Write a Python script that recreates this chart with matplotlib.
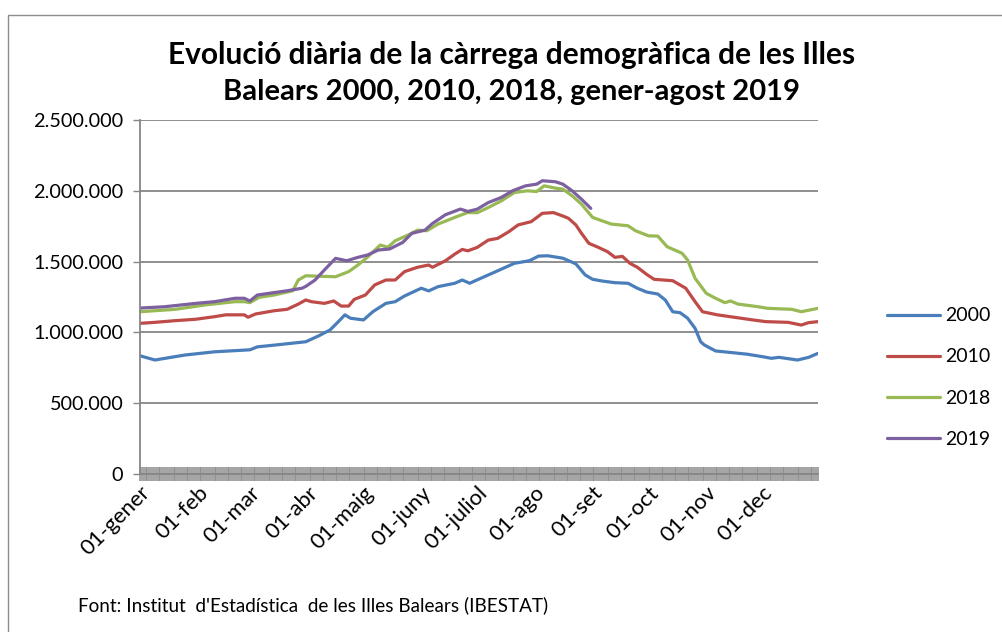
import matplotlib
matplotlib.use("Agg")
import matplotlib.pyplot as plt
from matplotlib.patches import Rectangle

plt.rcParams['font.family'] = ['Lato', 'DejaVu Sans']

# ---- data (thousands of people, sampled from the chart by day of year, 0 = 1 Jan) ----
days_2000 = [0, 8, 24, 40, 59, 63, 72, 89, 96, 102, 106, 110, 113, 120, 125, 132, 137, 142,
             151, 155, 160, 169, 173, 177, 180, 191, 201, 209, 214, 219, 227, 234, 239, 243,
             248, 255, 262, 267, 272, 278, 282, 286, 290, 294, 298, 301, 303, 309, 318, 326,
             334, 339, 343, 353, 359, 364]
vals_2000 = [835, 805, 840, 863, 877, 898, 910, 934, 976, 1017, 1069, 1124, 1100, 1088, 1146,
             1205, 1217, 1257, 1312, 1293, 1323, 1347, 1370, 1347, 1365, 1429, 1488, 1506, 1539,
             1541, 1524, 1484, 1406, 1375, 1363, 1351, 1347, 1312, 1285, 1271, 1229, 1146, 1139,
             1100, 1029, 934, 911, 869, 857, 846, 829, 817, 824, 805, 824, 852]

days_2010 = [0, 8, 19, 30, 40, 46, 56, 58, 62, 72, 79, 85, 89, 92, 99, 104, 108, 112, 115, 121,
             126, 132, 137, 142, 149, 155, 157, 164, 169, 173, 176, 181, 187, 192, 198, 203, 210,
             216, 222, 227, 230, 234, 237, 241, 246, 251, 255, 259, 263, 267, 272, 276, 286, 293,
             298, 302, 310, 319, 329, 336, 348, 355, 359, 364]
vals_2010 = [1064, 1071, 1083, 1093, 1111, 1124, 1124, 1107, 1130, 1153, 1163, 1200, 1229, 1217,
             1205, 1222, 1186, 1186, 1233, 1264, 1335, 1370, 1370, 1429, 1460, 1476, 1460, 1506,
             1553, 1586, 1576, 1600, 1652, 1664, 1711, 1759, 1782, 1841, 1846, 1822, 1806, 1759,
             1700, 1629, 1601, 1570, 1530, 1537, 1488, 1460, 1410, 1375, 1365, 1312, 1217, 1146,
             1124, 1107, 1088, 1076, 1071, 1052, 1069, 1076]

days_2018 = [0, 19, 35, 51, 56, 59, 64, 72, 82, 85, 89, 105, 112, 117, 122, 129, 133, 137, 144,
             149, 154, 160, 169, 176, 181, 187, 194, 201, 208, 213, 217, 223, 227, 232, 237, 243,
             247, 253, 262, 266, 273, 278, 283, 291, 294, 298, 304, 309, 314, 317, 321, 332, 337,
             350, 355, 364]
vals_2018 = [1146, 1163, 1194, 1217, 1217, 1210, 1248, 1264, 1294, 1370, 1400, 1393, 1429, 1476,
             1530, 1617, 1601, 1647, 1688, 1722, 1718, 1765, 1812, 1847, 1845, 1882, 1929, 1988,
             2000, 1995, 2035, 2019, 2012, 1965, 1906, 1812, 1793, 1765, 1753, 1718, 1682, 1680,
             1605, 1559, 1511, 1382, 1276, 1241, 1210, 1222, 1200, 1181, 1170, 1163, 1146, 1170]

days_2019 = [0, 13, 30, 40, 51, 56, 59, 63, 72, 79, 87, 89, 94, 99, 105, 111, 117, 122, 128,
             134, 141, 146, 153, 157, 164, 172, 176, 181, 187, 194, 200, 207, 213, 216, 223, 227,
             232, 237, 242]
vals_2019 = [1172, 1181, 1205, 1217, 1241, 1241, 1222, 1264, 1281, 1294, 1312, 1325, 1370, 1441,
             1523, 1506, 1530, 1546, 1582, 1589, 1635, 1700, 1722, 1769, 1831, 1871, 1854, 1870,
             1917, 1953, 2000, 2035, 2047, 2071, 2064, 2047, 2000, 1941, 1876]

series_labels = ['2000', '2010', '2018', '2019']
series_colors = ['#4A7EBB', '#BE4B48', '#98B954', '#7D60A0']

month_starts = [0, 31, 59, 90, 120, 151, 181, 212, 243, 273, 304, 334]
month_labels = ['01-gener', '01-feb', '01-mar', '01-abr', '01-maig', '01-juny', '01-juliol',
                '01-ago', '01-set', '01-oct', '01-nov', '01-dec']
y_ticks = [0, 500000, 1000000, 1500000, 2000000, 2500000]
y_ticklabels = ['0', '500.000', '1.000.000', '1.500.000', '2.000.000', '2.500.000']

title_lines = ['Evolució diària de la càrrega demogràfica de les Illes',
               'Balears 2000, 2010, 2018, gener-agost 2019']
source = "Font: Institut  d'Estadística  de les Illes Balears (IBESTAT)"

# ---- figure ----
W, H = 1002, 632
fig = plt.figure(figsize=(W / 100, H / 100), dpi=100)
fig.patch.set_facecolor('white')

# outer frame (chart area border)
fig.patches.append(Rectangle((8 / W, -0.05), 1.2, 1 - 15 / H + 0.05, transform=fig.transFigure,
                             fill=False, edgecolor='#8c8c8c', linewidth=1.0))

ax = fig.add_axes([140 / W, 1 - 474 / H, (818 - 140) / W, (474 - 120) / H])

grid_color = '#868686'
all_days = [days_2000, days_2010, days_2018, days_2019]
all_vals = [vals_2000, vals_2010, vals_2018, vals_2019]
for d, v, lab, col in zip(all_days, all_vals, series_labels, series_colors):
    ax.plot(d, [x * 1000 for x in v], color=col, linewidth=2.3, label=lab,
            solid_joinstyle='round', solid_capstyle='round')

ax.set_xlim(0, 364)
ax.set_ylim(0, 2500000)
ax.set_yticks(y_ticks)
ax.set_yticklabels(y_ticklabels)
ax.yaxis.grid(True, color=grid_color, linewidth=1.3)
ax.set_axisbelow(True)

ax.set_xticks(month_starts)
ax.set_xticklabels(month_labels, rotation=45, ha='right', va='top', rotation_mode='anchor')
ax.set_xticks(range(0, 365), minor=True)
ax.tick_params(axis='x', which='both', direction='inout', length=10.5, width=1.1,
               color='#8a8a8a', labelsize=15.8, pad=1)
ax.tick_params(axis='y', which='major', direction='out', length=5, width=1.0,
               color=grid_color, labelsize=14.3, pad=7)

for side in ['top', 'right']:
    ax.spines[side].set_visible(False)
for side in ['left', 'bottom']:
    ax.spines[side].set_color(grid_color)
    ax.spines[side].set_linewidth(1.3)

fig.text(512 / W, 1 - 55 / H, title_lines[0], ha='center', va='center', fontsize=21.5,
         fontweight='bold')
fig.text(512 / W, 1 - 92 / H, title_lines[1], ha='center', va='center', fontsize=21.0,
         fontweight='bold')

handles, labels = ax.get_legend_handles_labels()
leg = fig.legend(handles, labels, loc='center left', bbox_to_anchor=(887 / W, 1 - 377.5 / H),
                 frameon=False, fontsize=14, handlelength=2.73, labelspacing=1.24,
                 handletextpad=0.26, borderpad=0, borderaxespad=0)

fig.text(78 / W, 1 - 605 / H, source, ha='left', va='center', fontsize=13.6)

fig.savefig('out.png', dpi=100, facecolor='white')
